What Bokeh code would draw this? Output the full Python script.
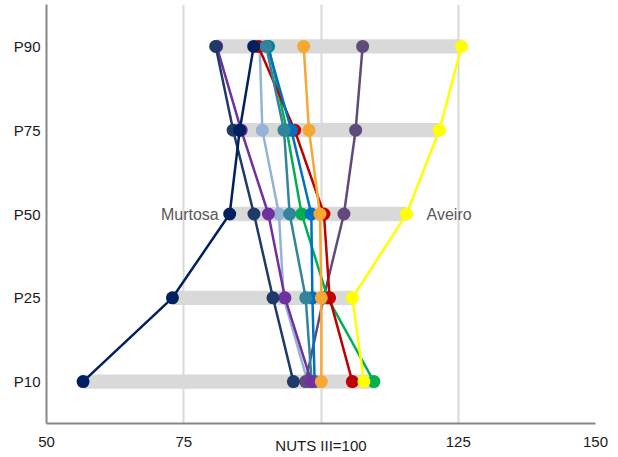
from bokeh.plotting import figure
from bokeh.models import Range1d, FixedTicker
from bokeh.core.properties import value
from bokeh.embed import file_html
from bokeh.resources import INLINE

# ---- data ----
percentiles = ["P10", "P25", "P50", "P75", "P90"]
x_ticks = [50, 75, 100, 125, 150]
x_tick_labels = ["50", "75", "", "125", "150"]
x_title = "NUTS III=100"

# values per municipality (NUTS III = 100), order P10, P25, P50, P75, P90
serie_dark_blue = [94.97, 91.25, 87.79, 84.0, 80.82]
serie_purple_gray = [97.2, 100.48, 104.18, 106.31, 107.58]
serie_purple = [98.24, 93.44, 90.41, 85.46, 81.0]
murtosa = [56.66, 72.94, 83.37, 85.19, 87.74]
serie_light_blue = [97.57, 93.2, 92.34, 89.32, 88.83]
serie_red = [105.71, 101.57, 100.54, 95.2, 88.6]
serie_green = [109.64, 101.21, 96.48, 93.75, 90.47]
serie_blue = [98.84, 98.43, 98.24, 94.6, 90.3]
serie_teal = [98.3, 97.21, 94.29, 93.26, 90.02]
serie_orange = [100.06, 100.06, 99.81, 97.81, 96.84]
aveiro = [107.82, 105.71, 115.59, 121.55, 125.61]

# drawing order: first = bottom
series = [
    ("Série D", serie_light_blue, "#95b3d7"),
    ("Série B", serie_purple_gray, "#604a7b"),
    ("Série F", serie_green, "#00b050"),
    ("Série E", serie_red, "#c00000"),
    ("Série G", serie_blue, "#0070c0"),
    ("Série H", serie_teal, "#31849b"),
    ("Série C", serie_purple, "#7030a0"),
    ("Série A", serie_dark_blue, "#1f3a68"),
    ("Murtosa", murtosa, "#002060"),
    ("Série I", serie_orange, "#f7a833"),
    ("Aveiro", aveiro, "#ffff00"),
]

ypos = list(range(len(percentiles)))

FONT = "Liberation Sans"

p = figure(width=610, height=457, output_backend="svg", toolbar_location=None,
           x_range=Range1d(50, 150), y_range=Range1d(-0.5, 4.5),
           min_border_left=46, min_border_right=15, min_border_top=4,
           min_border_bottom=34)
p.outline_line_color = None
p.background_fill_color = "white"
p.border_fill_color = "white"

# axes
p.xaxis.ticker = FixedTicker(ticks=x_ticks)
p.xaxis.major_label_overrides = {t: l for t, l in zip(x_ticks, x_tick_labels)}
p.yaxis.ticker = FixedTicker(ticks=ypos)
p.yaxis.major_label_overrides = {i: l for i, l in zip(ypos, percentiles)}
for ax in (p.xaxis, p.yaxis):
    ax.axis_line_color = "#868686"
    ax.axis_line_width = 2
    ax.major_tick_out = 0
    ax.major_tick_in = 0
    ax.minor_tick_out = 0
    ax.minor_tick_in = 0
    ax.major_label_text_font = FONT
    ax.major_label_text_font_size = "15px"
    ax.major_label_text_color = "#1a1a1a"
p.xaxis.major_label_standoff = 13
p.yaxis.major_label_standoff = 6
p.xaxis.axis_label = x_title
p.xaxis.axis_label_text_font = FONT
p.xaxis.axis_label_text_font_size = "15px"
p.xaxis.axis_label_text_font_style = "normal"
p.xaxis.axis_label_text_color = "#1a1a1a"
p.xaxis.axis_label_standoff = -13

p.xgrid.ticker = FixedTicker(ticks=[75, 100, 125, 150])
p.xgrid.grid_line_color = "#d9d9d9"
p.xgrid.grid_line_width = 2
p.ygrid.visible = False

# grey range bars (min to max at each percentile)
mins = [min(s[1][i] for s in series) for i in ypos]
maxs = [max(s[1][i] for s in series) for i in ypos]
p.hbar(y=ypos, left=mins, right=maxs, height=0.171, fill_color="#d9d9d9",
       line_color=None)

for name, vals, col in series:
    p.line(vals, ypos, line_color=col, line_width=2.5)
    p.scatter(vals, ypos, size=13, fill_color=col, line_color=col, line_width=0)

p.text(x=[murtosa[2]], y=[2], text=["Murtosa"], text_align="right",
       text_baseline="middle", x_offset=-11, text_font=value(FONT),
       text_font_size="16px", text_color="#595959")
p.text(x=[aveiro[2]], y=[2], text=["Aveiro"], text_align="left",
       text_baseline="middle", x_offset=20, text_font=value(FONT),
       text_font_size="16px", text_color="#595959")

open("out.html", "w").write(file_html(p, INLINE))
